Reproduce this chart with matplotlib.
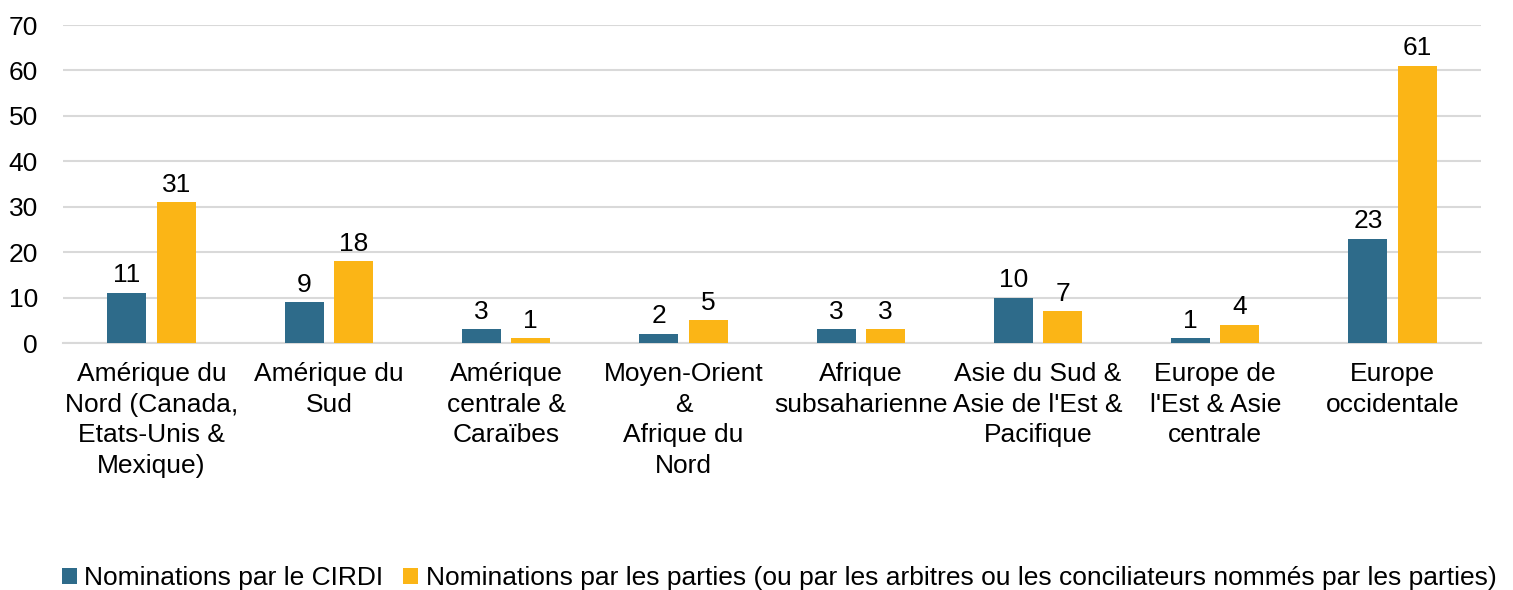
import matplotlib
matplotlib.use("Agg")
import matplotlib.pyplot as plt
import numpy as np

plt.rcParams['font.family'] = ['Liberation Sans', 'DejaVu Sans']

categories = ["Amérique du\nNord (Canada,\nEtats-Unis &\nMexique)",
              "Amérique du\nSud",
              "Amérique\ncentrale &\nCaraïbes",
              "Moyen-Orient\n&\nAfrique du\nNord",
              "Afrique\nsubsaharienne",
              "Asie du Sud &\nAsie de l'Est &\nPacifique",
              "Europe de\nl'Est & Asie\ncentrale",
              "Europe\noccidentale"]
cirdi = [11, 9, 3, 2, 3, 10, 1, 23]
parties = [31, 18, 1, 5, 3, 7, 4, 61]
series_names = ["Nominations par le CIRDI",
                "Nominations par les parties (ou par les arbitres ou les conciliateurs nommés par les parties)"]
yticks = [0, 10, 20, 30, 40, 50, 60, 70]

c_blue = "#2E6B8A"
c_orange = "#FBB516"
FS = 19

fig = plt.figure(figsize=(15.13, 5.9), dpi=100)
ax = fig.add_axes([0.0416, 0.4186, 0.9374, 0.539])

x = np.arange(len(categories))
w = 0.22
off = 0.139
b1 = ax.bar(x - off, cirdi, w, color=c_blue, label=series_names[0], zorder=3)
b2 = ax.bar(x + off, parties, w, color=c_orange, label=series_names[1], zorder=3)

for bars, vals in ((b1, cirdi), (b2, parties)):
    for r, v in zip(bars, vals):
        ax.annotate(str(v), (r.get_x() + r.get_width() / 2, v), xytext=(0, 4),
                    textcoords='offset points', ha='center', va='bottom',
                    fontsize=FS, color='black')

ax.set_xlim(-0.5, len(categories) - 0.5)
ax.set_ylim(0, 70)
ax.set_yticks(yticks)
ax.set_yticklabels([str(t) for t in yticks], fontsize=FS)
ax.set_xticks(x)
ax.set_xticklabels(categories, fontsize=FS, linespacing=1.34, va='top')
ax.tick_params(axis='both', length=0)
ax.tick_params(axis='x', pad=14)
ax.tick_params(axis='y', pad=18)
ax.yaxis.grid(True, color='#D9D9D9', linewidth=1.5, zorder=0)
for s in ['top', 'right', 'left']:
    ax.spines[s].set_visible(False)
ax.spines['bottom'].set_color('#D9D9D9')
ax.spines['bottom'].set_linewidth(1.5)

fig.legend(handles=[b1, b2], loc='center left', bbox_to_anchor=(0.041, 0.02), ncol=2,
           frameon=False, fontsize=FS, handlelength=0.55, handleheight=0.55,
           handletextpad=0.3, columnspacing=0.75, borderaxespad=0, borderpad=0)

fig.savefig("out.png", dpi=100)
